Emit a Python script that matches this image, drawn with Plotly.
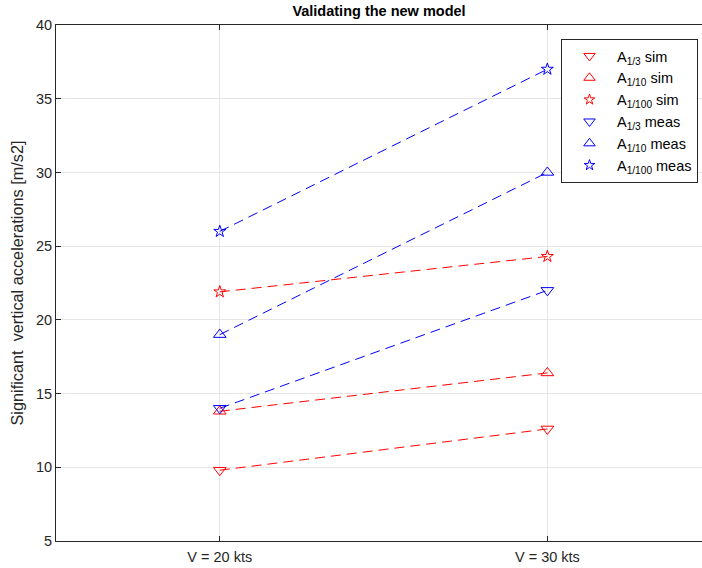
import plotly.graph_objects as go

categories = ["V = 20 kts", "V = 30 kts"]
sim_a13 = [9.8, 12.6]
sim_a110 = [13.8, 16.4]
sim_a1100 = [21.9, 24.3]
meas_a13 = [14.0, 22.0]
meas_a110 = [19.0, 30.0]
meas_a1100 = [26.0, 37.0]
yticks = [5, 10, 15, 20, 25, 30, 35, 40]

series = [
    ("A<sub>1/3</sub> sim", sim_a13, "#ff0000", "triangle-down-open", 11),
    ("A<sub>1/10</sub> sim", sim_a110, "#ff0000", "triangle-up-open", 11),
    ("A<sub>1/100</sub> sim", sim_a1100, "#ff0000", "star-open", 9),
    ("A<sub>1/3</sub> meas", meas_a13, "#0000ff", "triangle-down-open", 11),
    ("A<sub>1/10</sub> meas", meas_a110, "#0000ff", "triangle-up-open", 11),
    ("A<sub>1/100</sub> meas", meas_a1100, "#0000ff", "star-open", 9),
]

fig = go.Figure()
for name, vals, col, sym, sz in series:
    fig.add_trace(go.Scatter(
        x=categories, y=vals, name=name, mode="lines+markers", showlegend=False,
        line=dict(color=col, width=1, dash="10px,6px"),
        marker=dict(symbol=sym, size=sz, color=col, line=dict(color=col, width=1)),
    ))
# legend entries (markers only, as in the reference)
for name, vals, col, sym, sz in series:
    fig.add_trace(go.Scatter(
        x=[None], y=[None], name=name, mode="markers", showlegend=True,
        marker=dict(symbol=sym, size=sz - 1, color=col, line=dict(color=col, width=1)),
    ))

axis_col = "#262626"
fig.update_layout(
    width=702, height=568,
    margin=dict(l=56, r=0, t=25, b=27),
    paper_bgcolor="white", plot_bgcolor="white",
    font=dict(family="Liberation Sans, Arial, sans-serif", size=14.5, color=axis_col),
    title=dict(text="<b>Validating the new model</b>", x=0.5, xref="paper",
               y=1 - 11 / 568, yanchor="middle", font=dict(size=14.5, color="black")),
    xaxis=dict(type="category", range=[-0.5, 1.472], showgrid=True, gridcolor="#e6e6e6",
               showline=True, linecolor=axis_col, linewidth=1, mirror="ticks",
               ticks="inside", ticklen=5, tickcolor=axis_col, zeroline=False,
               ticklabelstandoff=3, tickfont=dict(size=14.5)),
    yaxis=dict(range=[5, 40], tickvals=yticks, showgrid=True, gridcolor="#e6e6e6",
               showline=True, linecolor=axis_col, linewidth=1,
               ticks="inside", ticklen=5, tickcolor=axis_col, zeroline=False,
               tickfont=dict(size=14.5),
               title=dict(text="Significant  vertical accelerations [m/s2]", standoff=8,
                          font=dict(size=16.3, color=axis_col))),
    legend=dict(x=(561 - 56) / 646, y=(541 - 39) / 516, xanchor="left", yanchor="top",
                bgcolor="white", bordercolor=axis_col, borderwidth=1, itemwidth=45,
                font=dict(size=14.5, color="black"), tracegroupgap=0),
    showlegend=True,
)

fig.write_html("out.html")
